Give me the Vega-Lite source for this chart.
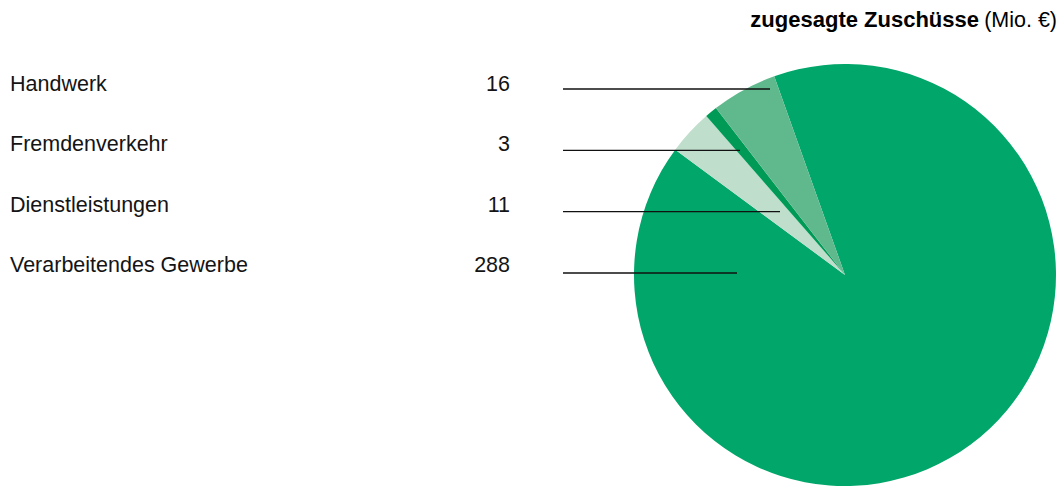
{
  "$schema": "https://vega.github.io/schema/vega-lite/v6.json",
  "width": 1060,
  "height": 486,
  "autosize": {"type": "fit", "contains": "padding"},
  "padding": 0,
  "background": "#ffffff",
  "config": {"view": {"stroke": null}, "font": "Liberation Sans"},
  "data": {
    "values": [
      {"label": "Verarbeitendes Gewerbe", "value": 288},
      {"label": "Dienstleistungen", "value": 11},
      {"label": "Fremdenverkehr", "value": 3},
      {"label": "Handwerk", "value": 16}
    ]
  },
  "resolve": {"scale": {"x": "independent", "y": "independent", "color": "independent", "theta": "independent"}},
  "layer": [
    {
      "mark": {"type": "arc", "outerRadius": 211, "stroke": null},
      "encoding": {
        "theta": {"field": "value", "type": "quantitative", "stack": true, "scale": {"range": [-0.9348, 5.3484]}},
        "order": {"field": "label", "type": "ordinal", "sort": "ascending"},
        "color": {
          "field": "label",
          "type": "nominal",
          "scale": {
            "domain": ["Verarbeitendes Gewerbe", "Dienstleistungen", "Fremdenverkehr", "Handwerk"],
            "range": ["#00a66a", "#bfdecb", "#009a57", "#60b98d"]
          },
          "legend": null
        },
        "x": {"datum": 845, "type": "quantitative", "scale": {"domain": [0, 1060], "nice": false, "zero": false}, "axis": null},
        "y": {"datum": 275, "type": "quantitative", "scale": {"domain": [486, 0], "nice": false, "zero": false}, "axis": null}
      }
    },
    {
      "mark": {"type": "text", "align": "left", "baseline": "alphabetic", "fontSize": 21.5, "color": "#141414"},
      "encoding": {
        "x": {"datum": 10, "type": "quantitative", "scale": {"domain": [0, 1060], "nice": false, "zero": false}, "axis": null},
        "y": {"field": "label", "type": "nominal", "scale": {"type": "point", "domain": ["Handwerk", "Fremdenverkehr", "Dienstleistungen", "Verarbeitendes Gewerbe"], "range": [91, 272], "padding": 0}, "axis": null},
        "text": {"field": "label", "type": "nominal"}
      }
    },
    {
      "mark": {"type": "text", "align": "right", "baseline": "alphabetic", "fontSize": 21.5, "color": "#141414"},
      "encoding": {
        "x": {"datum": 510, "type": "quantitative", "scale": {"domain": [0, 1060], "nice": false, "zero": false}, "axis": null},
        "y": {"field": "label", "type": "nominal", "scale": {"type": "point", "domain": ["Handwerk", "Fremdenverkehr", "Dienstleistungen", "Verarbeitendes Gewerbe"], "range": [91, 272], "padding": 0}, "axis": null},
        "text": {"field": "value", "type": "quantitative"}
      }
    },
    {
      "transform": [{"filter": "datum.label === 'Handwerk'"}],
      "mark": {"type": "rule", "color": "#111111", "strokeWidth": 1.4},
      "encoding": {
        "x": {"datum": 563, "type": "quantitative", "scale": {"domain": [0, 1060], "nice": false, "zero": false}, "axis": null},
        "x2": {"datum": 770},
        "y": {"field": "label", "type": "nominal", "scale": {"type": "point", "domain": ["Handwerk", "Fremdenverkehr", "Dienstleistungen", "Verarbeitendes Gewerbe"], "range": [89, 273], "padding": 0}, "axis": null}
      }
    },
    {
      "transform": [{"filter": "datum.label === 'Fremdenverkehr'"}],
      "mark": {"type": "rule", "color": "#111111", "strokeWidth": 1.4},
      "encoding": {
        "x": {"datum": 563, "type": "quantitative", "scale": {"domain": [0, 1060], "nice": false, "zero": false}, "axis": null},
        "x2": {"datum": 740},
        "y": {"field": "label", "type": "nominal", "scale": {"type": "point", "domain": ["Handwerk", "Fremdenverkehr", "Dienstleistungen", "Verarbeitendes Gewerbe"], "range": [89, 273], "padding": 0}, "axis": null}
      }
    },
    {
      "transform": [{"filter": "datum.label === 'Dienstleistungen'"}],
      "mark": {"type": "rule", "color": "#111111", "strokeWidth": 1.4},
      "encoding": {
        "x": {"datum": 563, "type": "quantitative", "scale": {"domain": [0, 1060], "nice": false, "zero": false}, "axis": null},
        "x2": {"datum": 780},
        "y": {"field": "label", "type": "nominal", "scale": {"type": "point", "domain": ["Handwerk", "Fremdenverkehr", "Dienstleistungen", "Verarbeitendes Gewerbe"], "range": [89, 273], "padding": 0}, "axis": null}
      }
    },
    {
      "transform": [{"filter": "datum.label === 'Verarbeitendes Gewerbe'"}],
      "mark": {"type": "rule", "color": "#111111", "strokeWidth": 1.4},
      "encoding": {
        "x": {"datum": 563, "type": "quantitative", "scale": {"domain": [0, 1060], "nice": false, "zero": false}, "axis": null},
        "x2": {"datum": 737},
        "y": {"field": "label", "type": "nominal", "scale": {"type": "point", "domain": ["Handwerk", "Fremdenverkehr", "Dienstleistungen", "Verarbeitendes Gewerbe"], "range": [89, 273], "padding": 0}, "axis": null}
      }
    },
    {
      "data": {"values": [{"part": "bold"}]},
      "mark": {"type": "text", "align": "right", "baseline": "alphabetic", "fontSize": 22, "fontWeight": "bold", "color": "#000000"},
      "encoding": {
        "x": {"datum": 979, "type": "quantitative", "scale": {"domain": [0, 1060], "nice": false, "zero": false}, "axis": null},
        "y": {"datum": 27, "type": "quantitative", "scale": {"domain": [486, 0], "nice": false, "zero": false}, "axis": null},
        "text": {"value": "zugesagte Zuschüsse"}
      }
    },
    {
      "data": {"values": [{"part": "unit"}]},
      "mark": {"type": "text", "align": "right", "baseline": "alphabetic", "fontSize": 21.5, "color": "#000000"},
      "encoding": {
        "x": {"datum": 1057, "type": "quantitative", "scale": {"domain": [0, 1060], "nice": false, "zero": false}, "axis": null},
        "y": {"datum": 27, "type": "quantitative", "scale": {"domain": [486, 0], "nice": false, "zero": false}, "axis": null},
        "text": {"value": "(Mio. €)"}
      }
    }
  ]
}
